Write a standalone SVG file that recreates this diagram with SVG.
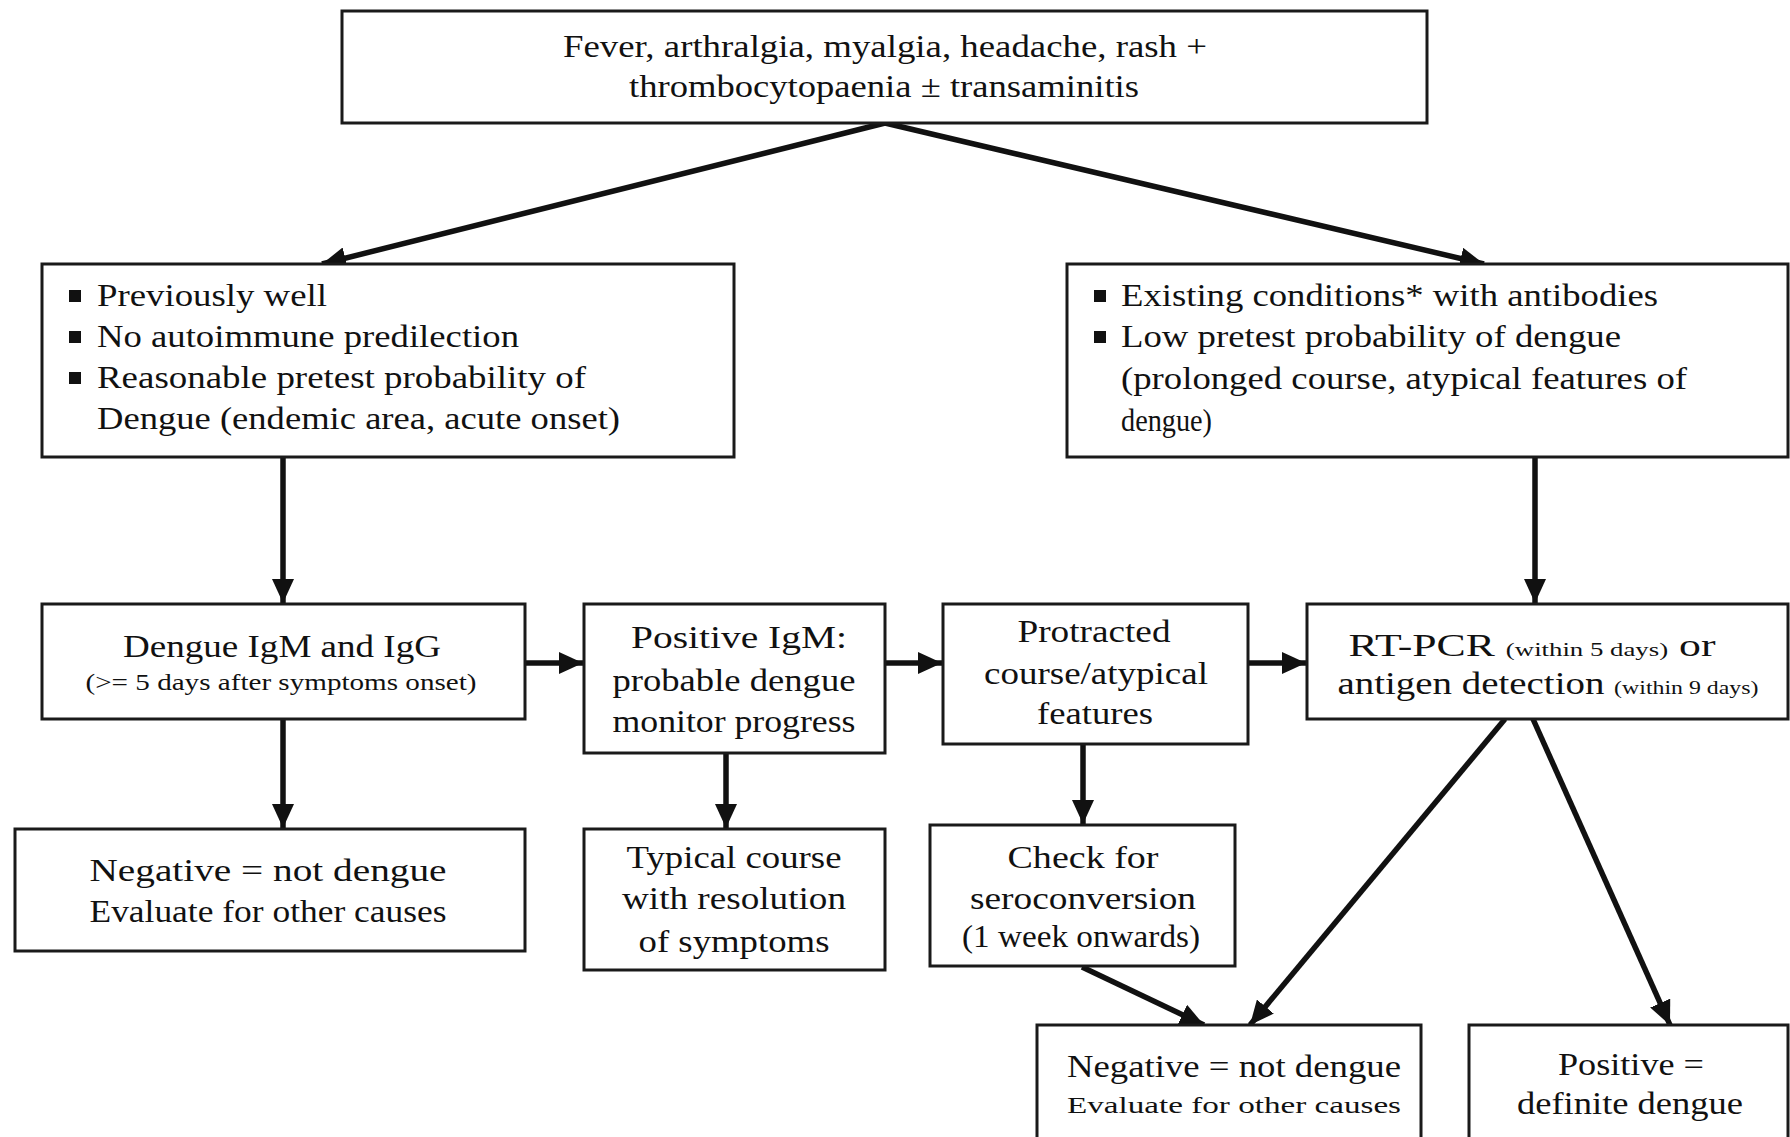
<svg xmlns="http://www.w3.org/2000/svg" width="1790" height="1137" viewBox="0 0 1790 1137">
<style>
.box{fill:#fff;stroke:#1a1a1a;stroke-width:3}
.t{font-family:"Liberation Serif","Times New Roman",serif;font-size:31px;fill:#111}
.c{text-anchor:middle}
.s{font-size:24px}
.xs{font-size:19px}
.bul{fill:#111}
.arr{stroke:#111;stroke-width:5.5;fill:none;marker-end:url(#ah)}
</style>
<defs>
<marker id="ah" markerUnits="userSpaceOnUse" markerWidth="26" markerHeight="22" refX="24" refY="11" orient="auto">
<path d="M0,0 L24,11 L0,22 Z" fill="#111"/>
</marker>
</defs>
<rect width="1790" height="1137" fill="#fff"/>

<g id="connectors">
<line class="arr" x1="885" y1="123" x2="322" y2="264"/>
<line class="arr" x1="885" y1="123" x2="1484" y2="264"/>
<line class="arr" x1="283" y1="457" x2="283" y2="603"/>
<line class="arr" x1="1535" y1="457" x2="1535" y2="603"/>
<line class="arr" x1="525" y1="663" x2="583" y2="663"/>
<line class="arr" x1="885" y1="663" x2="942" y2="663"/>
<line class="arr" x1="1248" y1="663" x2="1306" y2="663"/>
<line class="arr" x1="283" y1="719" x2="283" y2="828"/>
<line class="arr" x1="726" y1="753" x2="726" y2="828"/>
<line class="arr" x1="1083" y1="744" x2="1083" y2="824"/>
<line class="arr" x1="1082" y1="967" x2="1204" y2="1025"/>
<line class="arr" x1="1505" y1="719" x2="1250" y2="1025"/>
<line class="arr" x1="1533" y1="719" x2="1670" y2="1025"/>
</g>

<g id="top">
<rect class="box" x="342" y="11" width="1085" height="112"/>
<text class="t c" x="885" y="57" textLength="644" lengthAdjust="spacingAndGlyphs">Fever, arthralgia, myalgia, headache, rash +</text>
<text class="t c" x="884" y="97" textLength="510" lengthAdjust="spacingAndGlyphs">thrombocytopaenia ± transaminitis</text>
</g>

<g id="left-criteria">
<rect class="box" x="42" y="264" width="692" height="193"/>
<rect class="bul" x="69" y="290" width="12" height="12"/>
<rect class="bul" x="69" y="331" width="12" height="12"/>
<rect class="bul" x="69" y="372" width="12" height="12"/>
<text class="t" x="97" y="306" textLength="230" lengthAdjust="spacingAndGlyphs">Previously well</text>
<text class="t" x="97" y="347" textLength="422" lengthAdjust="spacingAndGlyphs">No autoimmune predilection</text>
<text class="t" x="97" y="388" textLength="489" lengthAdjust="spacingAndGlyphs">Reasonable pretest probability of</text>
<text class="t" x="97" y="429" textLength="523" lengthAdjust="spacingAndGlyphs">Dengue (endemic area, acute onset)</text>
</g>

<g id="right-criteria">
<rect class="box" x="1067" y="264" width="721" height="193"/>
<rect class="bul" x="1094" y="290" width="12" height="12"/>
<rect class="bul" x="1094" y="331" width="12" height="12"/>
<text class="t" x="1121" y="306" textLength="537" lengthAdjust="spacingAndGlyphs">Existing conditions* with antibodies</text>
<text class="t" x="1121" y="347" textLength="500" lengthAdjust="spacingAndGlyphs">Low pretest probability of dengue</text>
<text class="t" x="1121" y="389" textLength="566" lengthAdjust="spacingAndGlyphs">(prolonged course, atypical features of</text>
<text class="t" x="1121" y="431" textLength="91" lengthAdjust="spacingAndGlyphs">dengue)</text>
</g>

<g id="serology">
<rect class="box" x="42" y="604" width="483" height="115"/>
<text class="t c" x="282" y="657" textLength="318" lengthAdjust="spacingAndGlyphs">Dengue IgM and IgG</text>
<text class="t c s" x="281" y="690" textLength="391" lengthAdjust="spacingAndGlyphs">(&gt;= 5 days after symptoms onset)</text>
</g>

<g id="positive-igm">
<rect class="box" x="584" y="604" width="301" height="149"/>
<text class="t c" x="739" y="648" textLength="216" lengthAdjust="spacingAndGlyphs">Positive IgM:</text>
<text class="t c" x="734" y="691" textLength="243" lengthAdjust="spacingAndGlyphs">probable dengue</text>
<text class="t c" x="734" y="732" textLength="243" lengthAdjust="spacingAndGlyphs">monitor progress</text>
</g>

<g id="protracted">
<rect class="box" x="943" y="604" width="305" height="140"/>
<text class="t c" x="1094" y="642" textLength="153" lengthAdjust="spacingAndGlyphs">Protracted</text>
<text class="t c" x="1096" y="684" textLength="224" lengthAdjust="spacingAndGlyphs">course/atypical</text>
<text class="t c" x="1095" y="724" textLength="116" lengthAdjust="spacingAndGlyphs">features</text>
</g>

<g id="rtpcr">
<rect class="box" x="1307" y="604" width="481" height="115"/>
<text class="t c" x="1532" y="656" textLength="367" lengthAdjust="spacingAndGlyphs">RT-PCR <tspan class="xs">(within 5 days)</tspan> or</text>
<text class="t c" x="1548" y="694" textLength="421" lengthAdjust="spacingAndGlyphs">antigen detection <tspan class="xs">(within 9 days)</tspan></text>
</g>

<g id="negative-left">
<rect class="box" x="15" y="829" width="510" height="122"/>
<text class="t c" x="268" y="881" textLength="357" lengthAdjust="spacingAndGlyphs">Negative = not dengue</text>
<text class="t c" x="268" y="922" textLength="357" lengthAdjust="spacingAndGlyphs">Evaluate for other causes</text>
</g>

<g id="typical">
<rect class="box" x="584" y="829" width="301" height="141"/>
<text class="t c" x="734" y="868" textLength="215" lengthAdjust="spacingAndGlyphs">Typical course</text>
<text class="t c" x="734" y="909" textLength="224" lengthAdjust="spacingAndGlyphs">with resolution</text>
<text class="t c" x="734" y="952" textLength="191" lengthAdjust="spacingAndGlyphs">of symptoms</text>
</g>

<g id="seroconversion">
<rect class="box" x="930" y="825" width="305" height="141"/>
<text class="t c" x="1083" y="868" textLength="151" lengthAdjust="spacingAndGlyphs">Check for</text>
<text class="t c" x="1083" y="909" textLength="226" lengthAdjust="spacingAndGlyphs">seroconversion</text>
<text class="t c" x="1081" y="947" textLength="238" lengthAdjust="spacingAndGlyphs">(1 week onwards)</text>
</g>

<g id="negative-right">
<rect class="box" x="1037" y="1025" width="384" height="130"/>
<text class="t c" x="1234" y="1077" textLength="334" lengthAdjust="spacingAndGlyphs">Negative = not dengue</text>
<text class="t c s" x="1234" y="1113" textLength="334" lengthAdjust="spacingAndGlyphs">Evaluate for other causes</text>
</g>

<g id="positive-definite">
<rect class="box" x="1469" y="1025" width="319" height="130"/>
<text class="t c" x="1631" y="1075" textLength="146" lengthAdjust="spacingAndGlyphs">Positive =</text>
<text class="t c" x="1630" y="1114" textLength="226" lengthAdjust="spacingAndGlyphs">definite dengue</text>
</g>
</svg>
